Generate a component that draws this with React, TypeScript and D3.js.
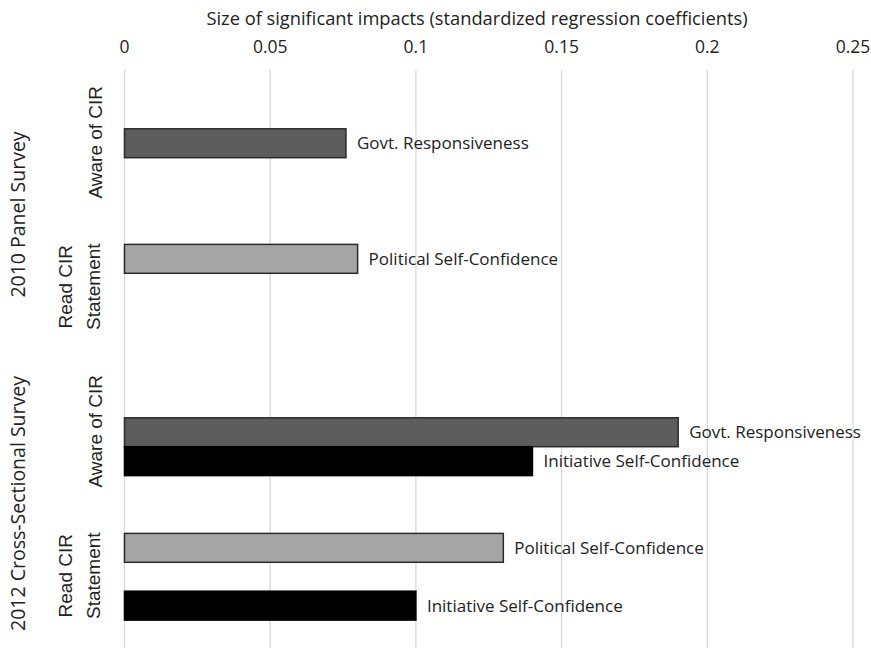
import React from "react";
import * as d3 from "d3";

const categories = ["2010 Aware", "2010 Read", "2012 Aware", "2012 Read"];
const subLabels: string[][] = [["Aware of CIR"], ["Read CIR", "Statement"], ["Aware of CIR"], ["Read CIR", "Statement"]];
const groups = [
  { label: "2010 Panel Survey", cats: ["2010 Aware", "2010 Read"] },
  { label: "2012 Cross-Sectional Survey", cats: ["2012 Aware", "2012 Read"] },
];
const slots = ["s0", "s1", "s2", "s3", "s4"];
const barCategory = ["2010 Aware", "2010 Read", "2012 Aware", "2012 Aware", "2012 Read", "2012 Read"];
const barSlot = ["s2", "s1", "s2", "s3", "s1", "s3"];
const barValue = [0.076, 0.08, 0.19, 0.14, 0.13, 0.1];
const barLabel = [
  "Govt. Responsiveness",
  "Political Self-Confidence",
  "Govt. Responsiveness",
  "Initiative Self-Confidence",
  "Political Self-Confidence",
  "Initiative Self-Confidence",
];
const xTicks = [0, 0.05, 0.1, 0.15, 0.2, 0.25];
const xTickLabels = ["0", "0.05", "0.1", "0.15", "0.2", "0.25"];
const axisTitle = "Size of significant impacts (standardized regression coefficients)";

const colorOf: Record<string, string> = {
  "Govt. Responsiveness": "#5d5d5d",
  "Political Self-Confidence": "#a5a5a5",
  "Initiative Self-Confidence": "#000000",
};

const W = 871;
const H = 649;
const FONT = "'Open Sans', 'Noto Sans', sans-serif";
const ARIAL = "'Liberation Sans', Arial, sans-serif";

export default function App() {
  const x = d3.scaleLinear().domain([0, 0.25]).range([124.5, 853]);
  const y = d3.scaleBand<string>().domain(categories).range([70, 648]).padding(0);
  const ys = d3.scaleBand<string>().domain(slots).range([0, y.bandwidth()]).padding(0);

  return (
    <svg width={W} height={H} style={{ position: "absolute", left: 0, top: 0, background: "#fff" }}>
      <rect width={W} height={H} fill="#fff" />
      {xTicks.map((t, i) => (
        <g key={i}>
          <line x1={x(t)} x2={x(t)} y1={70} y2={648} stroke="#d9d9d9" strokeWidth={1.3} />
          <text x={x(t)} y={53} textAnchor="middle" fontFamily={FONT} fontSize={17.5} fill="#222">
            {xTickLabels[i]}
          </text>
        </g>
      ))}
      <text x={477} y={25} textAnchor="middle" fontFamily={FONT} fontSize={18.3} fill="#222">
        {axisTitle}
      </text>
      {barValue.map((v, i) => {
        const y0 = (y(barCategory[i]) as number) + (ys(barSlot[i]) as number);
        const h = ys.bandwidth();
        const fill = colorOf[barLabel[i]];
        return (
          <g key={i}>
            <rect
              x={x(0)}
              y={y0 + 1}
              width={x(v) - x(0)}
              height={h}
              fill={fill}
              stroke={fill === "#000000" ? "#000" : "#2a2a2a"}
              strokeWidth={1.5}
            />
            <text x={x(v) + 11} y={y0 + h / 2 + 7} fontFamily={FONT} fontSize={17} fill="#222">
              {barLabel[i]}
            </text>
          </g>
        );
      })}
      {categories.map((c, i) => {
        const cy = (y(c) as number) + y.bandwidth() / 2;
        const lines = subLabels[i];
        return (
          <g key={c}>
            {lines.map((l, j) => {
              const bx = lines.length === 1 ? 102 : j === 0 ? 72 : 100;
              return (
                <text
                  key={j}
                  transform={`translate(${bx},${cy}) rotate(-90)`}
                  textAnchor="middle"
                  fontFamily={ARIAL}
                  fontSize={19}
                  fill="#222"
                >
                  {l}
                </text>
              );
            })}
          </g>
        );
      })}
      {groups.map((g) => {
        const top = y(g.cats[0]) as number;
        const bot = (y(g.cats[g.cats.length - 1]) as number) + y.bandwidth();
        const cy = (top + bot) / 2;
        return (
          <text
            key={g.label}
            transform={`translate(${25},${cy}) rotate(-90)`}
            textAnchor="middle"
            fontFamily={FONT}
            fontSize={19.5}
            fill="#222"
          >
            {g.label}
          </text>
        );
      })}
    </svg>
  );
}
